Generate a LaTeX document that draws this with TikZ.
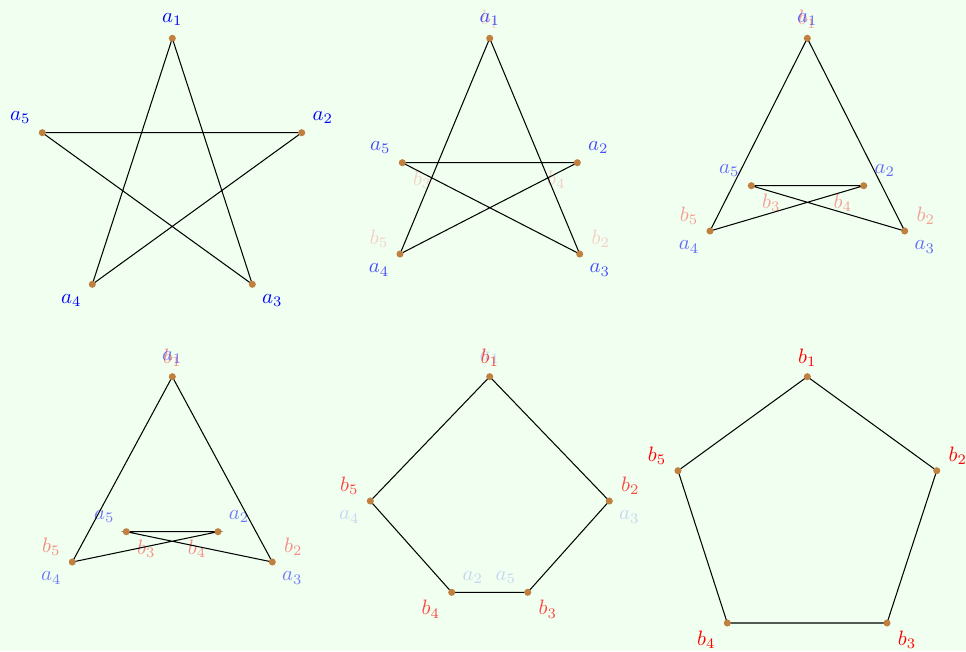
\documentclass[tikz,border=0pt]{standalone}
\usepackage{amsmath}
\usepackage{amssymb}
\usepackage{tikz}
\usepackage{xcolor}

\definecolor{honeydew}{HTML}{F0FFF0}
\definecolor{dotbrown}{rgb}{0.75,0.5,0.25}

\tikzset{
  alab/.style={text=blue, inner sep=0pt},
  blab/.style={text=red, inner sep=0pt},
  vdot/.style={fill=dotbrown},
  penedge/.style={black, line width=0.5pt}
}

% one frame: name, vertices a1..a5, opacity of the a labels, opacity of the b labels
\newcommand\pentapanel[8]{%
  \coordinate (#1v1) at (#2);
  \coordinate (#1v2) at (#3);
  \coordinate (#1v3) at (#4);
  \coordinate (#1v4) at (#5);
  \coordinate (#1v5) at (#6);
  \ifdim#8pt>0pt
    \node[blab, text opacity=#8] (#1b1) at ([shift={(0,-19)}]#1v1) {$b_1$};
    \node[blab, text opacity=#8] (#1b2) at ([shift={(21,-15)}]#1v3) {$b_2$};
    \node[blab, text opacity=#8] (#1b3) at ([shift={(20,17)}]#1v5) {$b_3$};
    \node[blab, text opacity=#8] (#1b4) at ([shift={(-21,17)}]#1v2) {$b_4$};
    \node[blab, text opacity=#8] (#1b5) at ([shift={(-21,-15)}]#1v4) {$b_5$};
  \fi
  \ifdim#7pt>0pt
    \node[alab, text opacity=#7] (#1a1) at ([shift={(0,-19)}]#1v1) {$a_1$};
    \node[alab, text opacity=#7] (#1a2) at ([shift={(21,-15)}]#1v2) {$a_2$};
    \node[alab, text opacity=#7] (#1a3) at ([shift={(20,16)}]#1v3) {$a_3$};
    \node[alab, text opacity=#7] (#1a4) at ([shift={(-21,16)}]#1v4) {$a_4$};
    \node[alab, text opacity=#7] (#1a5) at ([shift={(-22,-15)}]#1v5) {$a_5$};
  \fi
  \draw[penedge] (#1v1) -- (#1v3) -- (#1v5) -- (#1v2) -- (#1v4) -- cycle;
  \foreach \k in {1,...,5}
    \fill[vdot] (#1v\k) circle (1.7pt);
}

\begin{document}
\begin{tikzpicture}[x=0.48pt,y=-0.48pt]
  \fill[honeydew] (0,0) rectangle (966,651);
  \useasboundingbox (0,0) rectangle (966,651);
  % top row
  \pentapanel{p1}{172.3,38.3}{301.7,132.7}{252.3,284.3}{92.3,284.3}{42.3,132.7}{1}{0}
  \pentapanel{p2}{489.7,38.3}{577.3,162.7}{579.7,254}{400,254}{402.3,162.7}{0.7}{0.18}
  \pentapanel{p3}{807.3,38.3}{863.7,185.7}{904.7,231}{710,231}{751.3,185.7}{0.58}{0.38}
  % bottom row
  \pentapanel{p4}{172.3,376.7}{218,531.7}{272.3,562}{72.3,562}{126.3,531.7}{0.52}{0.45}
  \pentapanel{p5}{489.7,376.7}{451.7,592.3}{609.3,501}{370.3,501}{527.7,592.3}{0.17}{0.72}
  \pentapanel{p6}{807.3,376.7}{727.3,623}{936.7,470.7}{678,470.7}{887,623}{0}{1}
\end{tikzpicture}
\end{document}
